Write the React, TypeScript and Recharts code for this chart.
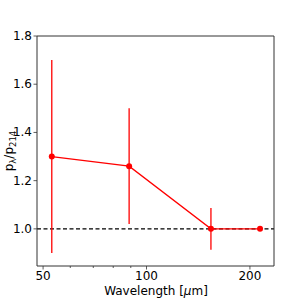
import { LineChart, Line, XAxis, YAxis, ReferenceLine, ErrorBar } from 'recharts';

const wavelengths = [53, 89, 154, 214];
const ratios = [1.3, 1.26, 1.0, 1.0];
const errors = [0.4, 0.24, 0.087, 0];
const xTicks = [50, 60, 70, 80, 90, 100, 200];
const xLabels = [50, 100, 200];
const yTicks = [1.0, 1.2, 1.4, 1.6, 1.8];

const data = wavelengths.map((w, i) => ({ w, r: ratios[i], err: errors[i] }));

const font = '"DejaVu Sans", sans-serif';
const axisColor = '#333';

const XTick = (props: any) => {
  const { x, y, payload } = props;
  const major = xLabels.includes(payload.value);
  return (
    <g>
      <line x1={x} x2={x} y1={y} y2={y + (major ? 3.5 : 2)} stroke={axisColor} strokeWidth={0.8} />
      {major && (
        <text x={x} y={y + 14} textAnchor="middle" fontSize={12} fill="#000" fontFamily={font}>
          {payload.value}
        </text>
      )}
    </g>
  );
};

const YTick = (props: any) => {
  const { x, y, payload } = props;
  return (
    <g>
      <line x1={x - 3.5} x2={x} y1={y} y2={y} stroke={axisColor} strokeWidth={0.8} />
      <text x={x - 5} y={y} textAnchor="end" dominantBaseline="central" fontSize={12} fill="#000" fontFamily={font}>
        {payload.value.toFixed(1)}
      </text>
    </g>
  );
};

export default function App() {
  return (
    <div style={{ position: 'fixed', left: 0, top: 0, width: 305, height: 305, background: '#fff' }}>
      <LineChart width={305} height={305} data={data} margin={{ top: 35, right: 30, bottom: 0, left: 0 }}>
        <XAxis
          dataKey="w"
          type="number"
          scale="log"
          domain={[48, 235]}
          allowDataOverflow
          ticks={xTicks}
          interval={0}
          height={39}
          tickSize={0}
          tickMargin={0}
          tick={<XTick />}
          axisLine={{ stroke: axisColor, strokeWidth: 1 }}
          label={{
            content: () => (
              <text x={156} y={295} textAnchor="middle" fontSize={12} fill="#000" fontFamily={font}>
                Wavelength [<tspan fontStyle="italic">μ</tspan>m]
              </text>
            ),
          }}
        />
        <XAxis xAxisId="top" orientation="top" dataKey="w" type="number" scale="log" domain={[48, 235]} allowDataOverflow height={1} tick={false} tickLine={false} axisLine={{ stroke: axisColor, strokeWidth: 1 }} />
        <YAxis
          type="number"
          domain={[0.846, 1.8]}
          allowDataOverflow
          ticks={yTicks}
          interval={0}
          width={37}
          tickSize={0}
          tickMargin={0}
          tick={<YTick />}
          axisLine={{ stroke: axisColor, strokeWidth: 1 }}
          label={{
            content: () => (
              <text x={13} y={151} transform="rotate(-90, 13, 151)" textAnchor="middle" fontSize={12} fill="#000" fontFamily={font}>
                p<tspan fontSize={8.5} dy={3}>λ</tspan>
                <tspan dy={-3}>/p</tspan>
                <tspan fontSize={8.5} dy={3}>214</tspan>
              </text>
            ),
          }}
        />
        <YAxis yAxisId="right" orientation="right" type="number" domain={[0.846, 1.8]} allowDataOverflow width={1} tick={false} tickLine={false} axisLine={{ stroke: axisColor, strokeWidth: 1 }} />
        <ReferenceLine y={1} stroke="#000" strokeDasharray="4 2.5" strokeWidth={1.2} />
        <Line
          dataKey="r"
          stroke="#ff0000"
          strokeWidth={1.3}
          dot={{ r: 3, fill: '#ff0000', stroke: 'none' }}
          isAnimationActive={false}
        >
          <ErrorBar dataKey="err" direction="y" width={0} stroke="#ff0000" strokeWidth={1.3} />
        </Line>
      </LineChart>
    </div>
  );
}
